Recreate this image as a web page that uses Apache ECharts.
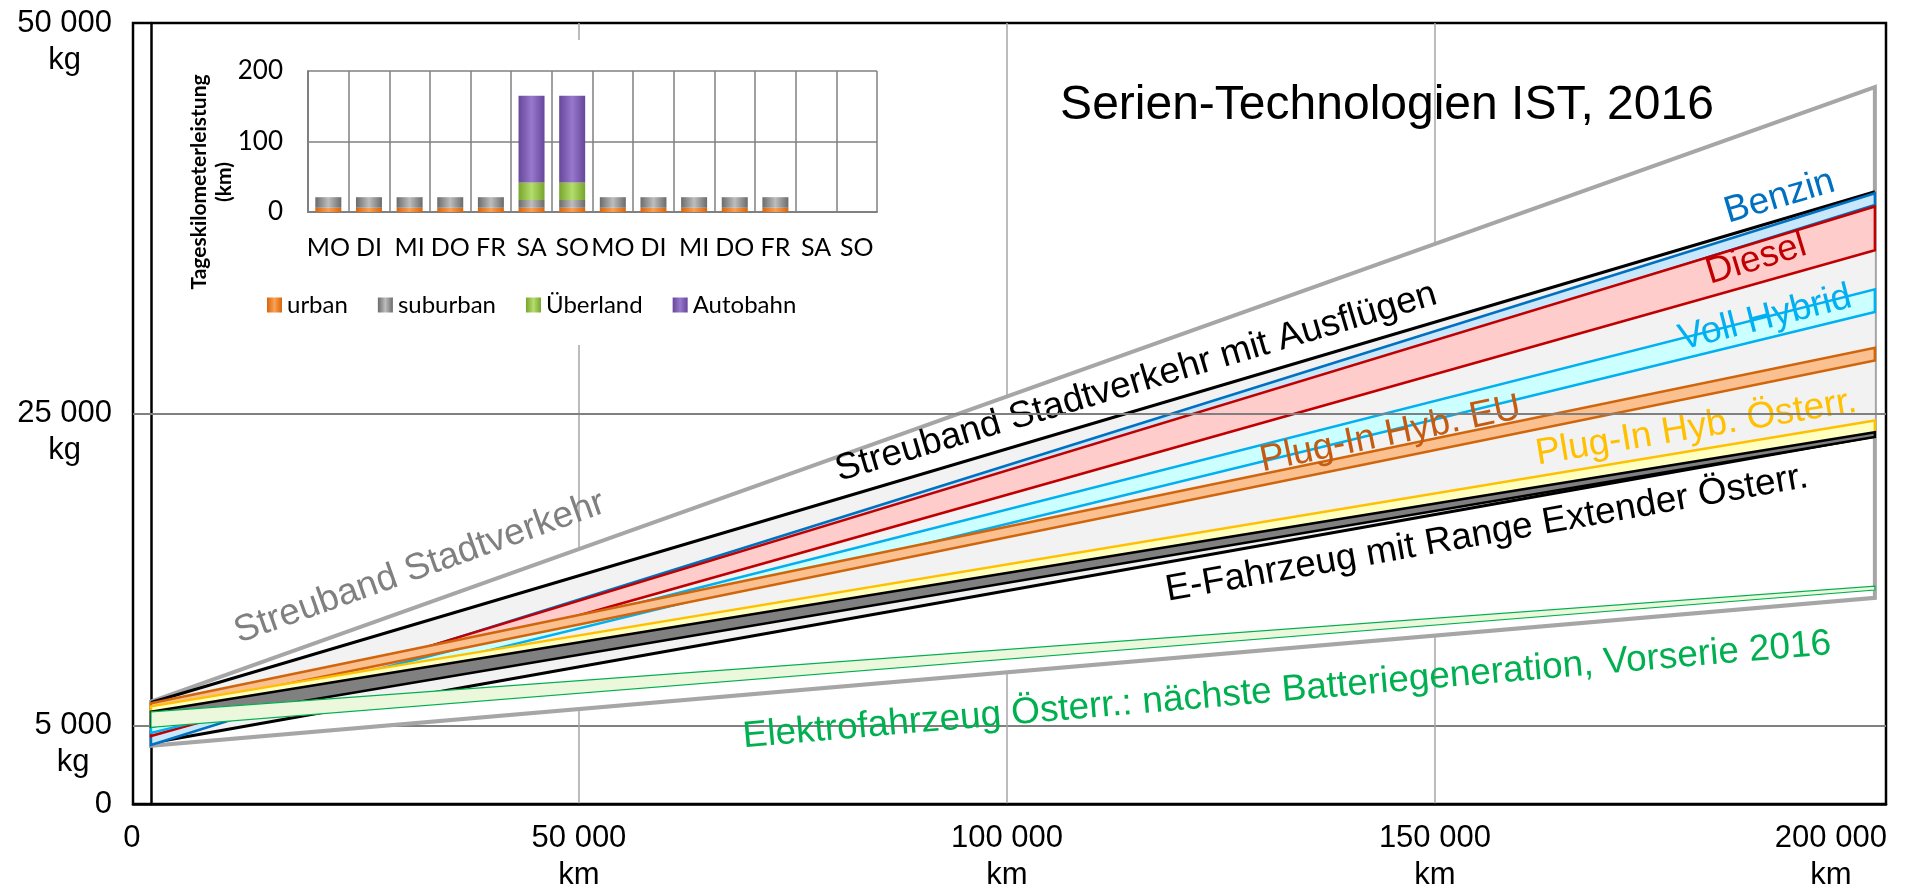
<!DOCTYPE html>
<html>
<head>
<meta charset="utf-8">
<script src="https://cdn.jsdelivr.net/npm/echarts@6/dist/echarts.min.js"></script>
<style>
  html, body { margin: 0; padding: 0; background: #fff; }
  #chart { width: 1908px; height: 889px; }
</style>
</head>
<body>
<div id="chart"></div>
<script>
// ---- CO2 bands: every band is a straight strip from kmStart to kmEnd ----
const kmStart = 0;
const kmEnd = 201400;

const bandNames = [
  'Streuband Stadtverkehr',
  'Streuband Stadtverkehr mit Ausflügen',
  'Benzin',
  'Diesel',
  'Voll Hybrid',
  'Plug-In Hyb. EU',
  'Plug-In Hyb. Österr.',
  'E-Fahrzeug mit Range Extender Österr.',
  'Elektrofahrzeug Österr.: nächste Batteriegeneration, Vorserie 2016'
];
// kg at kmStart (upper / lower edge) and at kmEnd (upper / lower edge)
const startUpper = [6550, 6500, 4500, 4680, 4950, 6450, 6250, 5900, 5900];
const startLower = [3730, 3900, 3780, 4350, 4550, 5900, 5750, 4950, 4900];
const endUpper   = [45900, 39200, 39100, 38250, 32950, 29200, 24550, 23800, 13950];
const endLower   = [13200, 23550, 38350, 35450, 31500, 28400, 23750, 23500, 13700];

// ---- axis ticks ----
const xLabelValues = [0, 50000, 100000, 150000, 200000];
const xGridValues = [50000, 100000, 150000];
const yLabelValues = [0, 5000, 25000, 50000];
const yGridValues = [5000];
const yReferenceLine = 25000;

// ---- daily driving profile (inset) ----
const days = ['MO', 'DI', 'MI', 'DO', 'FR', 'SA', 'SO', 'MO', 'DI', 'MI', 'DO', 'FR', 'SA', 'SO'];
const urban     = [6, 6, 6, 6, 6, 6, 6, 6, 6, 6, 6, 6, 0, 0];
const suburban  = [15, 15, 15, 15, 15, 11, 11, 15, 15, 15, 15, 15, 0, 0];
const ueberland = [0, 0, 0, 0, 0, 25, 25, 0, 0, 0, 0, 0, 0, 0];
const autobahn  = [0, 0, 0, 0, 0, 123, 123, 0, 0, 0, 0, 0, 0, 0];

// ---- band appearance ----
const bandStyles = [
  { fill: '#ffffff', stroke: '#a6a6a6', width: 4, outline: 'full' },
  { fill: '#f2f2f2', stroke: '#000000', width: 3, outline: 'edges' },
  { fill: '#c9e7fa', stroke: '#0070c0', width: 2.5, outline: 'full' },
  { fill: '#ffcccc', stroke: '#c00000', width: 2.5, outline: 'full' },
  { fill: '#ccffff', stroke: '#00b0f0', width: 2.5, outline: 'full' },
  { fill: '#fac090', stroke: '#d0650c', width: 2.5, outline: 'full' },
  { fill: '#ffffc0', stroke: '#ffc000', width: 2.5, outline: 'full' },
  { fill: '#808080', stroke: '#000000', width: 2.5, outline: 'full' },
  { fill: '#ebf8dc', stroke: '#00b050', width: 1.2, outline: 'full' }
];

// band labels: text follows one edge of a band
const bandLabels = [
  { text: bandNames[0], band: 0, edge: 'upper', km: 32800, offset: -36, color: '#808080' },
  { text: bandNames[1], band: 1, edge: 'upper', km: 116000, offset: -27, color: '#000000' },
  { text: bandNames[2], band: 1, edge: 'upper', km: 191000, offset: -22, color: '#0070c0' },
  { text: bandNames[3], band: 3, edge: 'upper', km: 187000, offset: 16, color: '#c00000' },
  { text: bandNames[4], band: 4, edge: 'upper', km: 188550, offset: 1, color: '#00b0f0' },
  { text: bandNames[5], band: 5, edge: 'upper', km: 145100, offset: -13, color: '#c55a11' },
  { text: bandNames[6], band: 6, edge: 'upper', km: 180960, offset: -22, color: '#ffc000' },
  { text: bandNames[7], band: 1, edge: 'lower', km: 155500, offset: 28, color: '#000000' },
  { text: bandNames[8], band: 0, edge: 'lower', km: 132300, offset: 42, color: '#00b050' }
];

const MAIN_FONT = '"Liberation Sans", Arial, sans-serif';
const INSET_FONT = 'Lato, "Open Sans", sans-serif';

function groupThousands(v) {
  return String(v).replace(/\B(?=(\d{3})+(?!\d))/g, ' ');
}

function bevel(edge, mid) {
  return {
    type: 'linear', x: 0, y: 0, x2: 1, y2: 0,
    colorStops: [
      { offset: 0, color: edge },
      { offset: 0.5, color: mid },
      { offset: 1, color: edge }
    ]
  };
}

const bandData = bandNames.map((n, i) => [kmStart, startUpper[i], startLower[i], kmEnd, endUpper[i], endLower[i]]);

function renderBand(params, api) {
  const i = params.dataIndex;
  const s = bandStyles[i];
  const a = api.coord([api.value(0), api.value(1)]);
  const d = api.coord([api.value(0), api.value(2)]);
  const b = api.coord([api.value(3), api.value(4)]);
  const c = api.coord([api.value(3), api.value(5)]);
  if (s.outline === 'full') {
    return {
      type: 'polygon',
      shape: { points: [a, b, c, d] },
      style: { fill: s.fill, stroke: s.stroke, lineWidth: s.width, lineJoin: 'miter' }
    };
  }
  return {
    type: 'group',
    children: [
      { type: 'polygon', shape: { points: [a, b, c, d] }, style: { fill: s.fill } },
      { type: 'polyline', shape: { points: [a, b] }, style: { fill: null, stroke: s.stroke, lineWidth: s.width } },
      { type: 'polyline', shape: { points: [d, c] }, style: { fill: null, stroke: s.stroke, lineWidth: s.width } }
    ]
  };
}

function renderBandLabel(params, api) {
  const L = bandLabels[params.dataIndex];
  const k = L.band;
  const y0 = L.edge === 'upper' ? startUpper[k] : startLower[k];
  const y1 = L.edge === 'upper' ? endUpper[k] : endLower[k];
  const pa = api.coord([kmStart, y0]);
  const pb = api.coord([kmEnd, y1]);
  const t = (L.km - kmStart) / (kmEnd - kmStart);
  const p = api.coord([L.km, y0 + (y1 - y0) * t]);
  const theta = Math.atan2(-(pb[1] - pa[1]), pb[0] - pa[0]);
  return {
    type: 'text',
    x: p[0] + L.offset * Math.sin(theta),
    y: p[1] + L.offset * Math.cos(theta),
    rotation: theta,
    style: {
      text: L.text,
      fill: L.color,
      font: '37px ' + MAIN_FONT,
      align: 'center',
      verticalAlign: 'middle'
    }
  };
}

const chart = echarts.init(document.getElementById('chart'), null, { renderer: 'canvas' });

const option = {
  backgroundColor: '#ffffff',
  animation: false,
  grid: [
    { left: 133, top: 23, right: 22, bottom: 85, show: true, borderColor: '#000', borderWidth: 2.5, outerBoundsMode: 'none', containLabel: false },
    { left: 308, top: 71, width: 569, height: 141, outerBoundsMode: 'none', containLabel: false }
  ],
  xAxis: [
    {
      gridIndex: 0, type: 'value', min: -2100, max: 202700,
      axisLine: { show: true, lineStyle: { color: '#000', width: 2.5 } },
      axisTick: { show: false, customValues: xGridValues },
      splitLine: { show: true, lineStyle: { color: '#a6a6a6', width: 1.5 } },
      axisLabel: {
        customValues: xLabelValues,
        margin: 16,
        formatter: function (v) {
          if (v === 0) return '{z|0}';
          if (v === 200000) return '{e|' + groupThousands(v) + '}\n{e|km}';
          return '{t|' + groupThousands(v) + '}\n{t|km}';
        },
        rich: {
          t: { fontFamily: MAIN_FONT, fontSize: 31, lineHeight: 37, color: '#000', align: 'center' },
          e: { fontFamily: MAIN_FONT, fontSize: 31, lineHeight: 37, color: '#000', align: 'center', padding: [0, 64, 0, 0] },
          z: { fontFamily: MAIN_FONT, fontSize: 31, lineHeight: 37, color: '#000', align: 'center', padding: [0, 38, 0, 0] }
        }
      }
    },
    {
      gridIndex: 1, type: 'category', data: days, z: 5,
      axisLine: { show: true, lineStyle: { color: '#808080', width: 2 } },
      axisTick: { show: false },
      splitLine: { show: true, lineStyle: { color: '#808080', width: 1.5 } },
      axisLabel: { interval: 0, margin: 23, color: '#000', fontFamily: INSET_FONT, fontSize: 25 }
    }
  ],
  yAxis: [
    {
      gridIndex: 0, type: 'value', min: 0, max: 50000,
      axisLine: { show: true, lineStyle: { color: '#000', width: 2.5 } },
      axisTick: { show: false, customValues: yGridValues },
      splitLine: { show: true, lineStyle: { color: '#808080', width: 2 } },
      axisLabel: {
        customValues: yLabelValues,
        margin: 21,
        align: 'right',
        verticalAlign: 'middle',
        formatter: function (v) {
          if (v === 0) return '{t|0}';
          return '{t| }\n{t|' + groupThousands(v) + '}\n{t|kg}';
        },
        rich: {
          t: { fontFamily: MAIN_FONT, fontSize: 31, lineHeight: 37, color: '#000', align: 'center' }
        }
      }
    },
    {
      gridIndex: 1, type: 'value', min: 0, max: 200, interval: 100, z: 5,
      axisLine: { show: true, lineStyle: { color: '#808080', width: 2 } },
      axisTick: { show: false },
      splitLine: { show: true, lineStyle: { color: '#808080', width: 1.5 } },
      axisLabel: { margin: 25, color: '#000', fontFamily: INSET_FONT, fontSize: 26 }
    }
  ],
  legend: {
    data: ['urban', 'suburban', 'Überland', 'Autobahn'],
    left: 262, top: 288,
    itemWidth: 15, itemHeight: 15, itemGap: 30,
    icon: 'rect',
    textStyle: { fontFamily: INSET_FONT, fontSize: 24, color: '#000' },
    z: 6
  },
  graphic: [
    { type: 'rect', z: 1, silent: true, left: 175, top: 40, shape: { width: 700, height: 305 }, style: { fill: '#ffffff' } },
    {
      type: 'text', z: 10, x: 1387, y: 106,
      style: { text: 'Serien-Technologien IST, 2016', font: '48px ' + MAIN_FONT, fill: '#000', align: 'center', verticalAlign: 'middle' }
    },
    {
      type: 'text', z: 10, x: 212, y: 182, rotation: Math.PI / 2,
      style: { text: 'Tageskilometerleistung\n(km)', font: 'bold 21px ' + INSET_FONT, lineHeight: 25, fill: '#000', align: 'center', verticalAlign: 'middle' }
    }
  ],
  series: [
    {
      name: 'bands', type: 'custom', xAxisIndex: 0, yAxisIndex: 0, z: 2,
      encode: { x: [0, 3], y: [1, 2, 4, 5] },
      renderItem: renderBand,
      data: bandData,
      silent: true
    },
    {
      name: 'bandLabels', type: 'custom', xAxisIndex: 0, yAxisIndex: 0, z: 3,
      renderItem: renderBandLabel,
      data: bandLabels.map((l, i) => [l.km, i]),
      silent: true,
      markLine: {
        silent: true,
        symbol: ['none', 'none'],
        label: { show: false },
        lineStyle: { color: '#808080', width: 2, type: 'solid' },
        data: [{ yAxis: yReferenceLine }]
      }
    },
    {
      name: 'urban', type: 'bar', stack: 'km', xAxisIndex: 1, yAxisIndex: 1, barWidth: 26, z: 6,
      itemStyle: { color: bevel('#d9650a', '#f9a154') }, data: urban
    },
    {
      name: 'suburban', type: 'bar', stack: 'km', xAxisIndex: 1, yAxisIndex: 1, barWidth: 26, z: 6,
      itemStyle: { color: bevel('#6b6b6b', '#bdbdbd') }, data: suburban
    },
    {
      name: 'Überland', type: 'bar', stack: 'km', xAxisIndex: 1, yAxisIndex: 1, barWidth: 26, z: 6,
      itemStyle: { color: bevel('#76a52c', '#b5dd6c') }, data: ueberland
    },
    {
      name: 'Autobahn', type: 'bar', stack: 'km', xAxisIndex: 1, yAxisIndex: 1, barWidth: 26, z: 6,
      itemStyle: { color: bevel('#67479a', '#9878cc') }, data: autobahn
    }
  ]
};

chart.setOption(option);
</script>
</body>
</html>
